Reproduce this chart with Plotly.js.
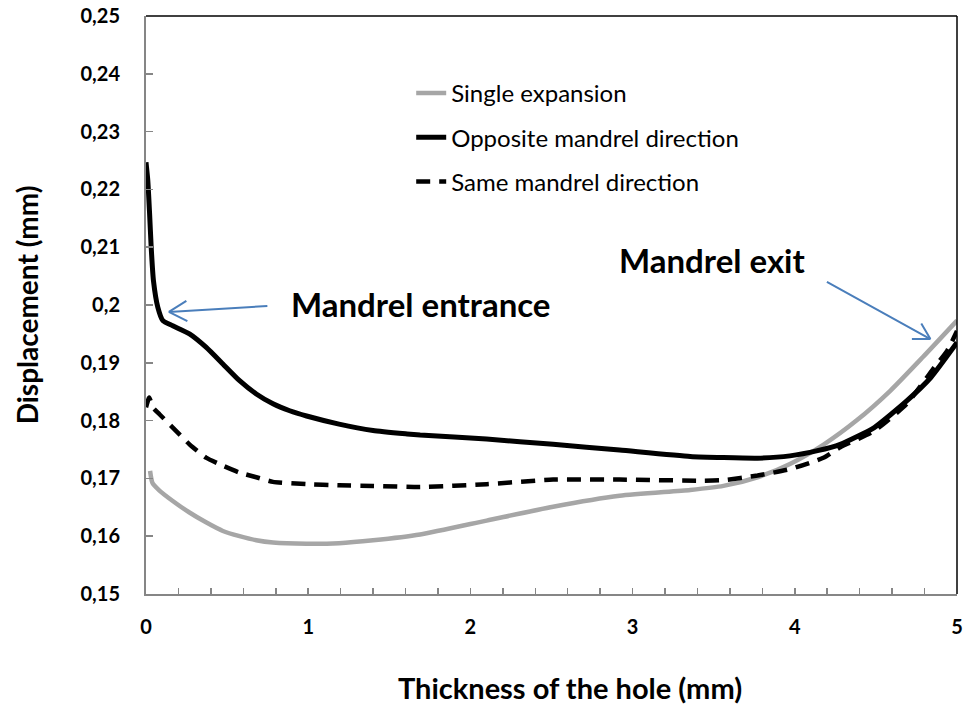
<!DOCTYPE html>
<html>
<head>
<meta charset="utf-8">
<script src="https://cdn.plot.ly/plotly-3.0.1.min.js"></script>
<style>html,body{margin:0;padding:0;background:#fff;}#chart{width:964px;height:708px;}</style>
</head>
<body>
<div id="chart"></div>
<script>
// ---- data ----
const seriesNames = ["Single expansion", "Opposite mandrel direction", "Same mandrel direction"];

const singleX = [0.025, 0.04, 0.083, 0.165, 0.268, 0.37, 0.474, 0.577, 0.68, 0.783, 0.99, 1.19, 1.40, 1.69, 2.10, 2.51, 2.92, 3.355, 3.56, 3.77, 3.97, 4.18, 4.38, 4.59, 4.79, 5.0];
const singleY = [0.1713, 0.1692, 0.1679, 0.1661, 0.1641, 0.1624, 0.1609, 0.1600, 0.1593, 0.1589, 0.1587, 0.1588, 0.1593, 0.1603, 0.1627, 0.1651, 0.1670, 0.1680, 0.1687, 0.1702, 0.1725, 0.1759, 0.1800, 0.1852, 0.1910, 0.1973];

const oppositeX = [0, 0.011, 0.022, 0.032, 0.046, 0.073, 0.104, 0.165, 0.268, 0.37, 0.474, 0.577, 0.68, 0.783, 0.886, 0.99, 1.19, 1.40, 1.61, 1.69, 2.10, 2.51, 2.92, 3.355, 3.56, 3.77, 3.97, 4.14, 4.28, 4.49, 4.69, 4.84, 5.0];
const oppositeY = [0.2247, 0.2216, 0.2159, 0.2100, 0.2042, 0.1996, 0.1973, 0.1964, 0.1950, 0.1927, 0.1898, 0.1869, 0.1846, 0.1829, 0.1817, 0.1808, 0.1794, 0.1783, 0.1777, 0.1775, 0.1768, 0.1759, 0.1749, 0.1738, 0.1736, 0.1735, 0.1739, 0.1748, 0.1759, 0.1788, 0.1834, 0.1875, 0.1935];

const sameX = [0, 0.02, 0.042, 0.083, 0.165, 0.268, 0.37, 0.474, 0.577, 0.68, 0.783, 0.99, 1.19, 1.40, 1.69, 2.10, 2.51, 2.92, 3.42, 3.56, 3.77, 3.97, 4.18, 4.28, 4.49, 4.69, 4.86, 4.94, 5.0];
const sameY = [0.1823, 0.1840, 0.1823, 0.1811, 0.1788, 0.1759, 0.1736, 0.1722, 0.1710, 0.1702, 0.1694, 0.1690, 0.1688, 0.1687, 0.1685, 0.1690, 0.1698, 0.1698, 0.1696, 0.1697, 0.1705, 0.1716, 0.1736, 0.1754, 0.1782, 0.1829, 0.1892, 0.1921, 0.1955];

const xTickVals = [0, 1, 2, 3, 4, 5];
const yTickVals = [0.15, 0.16, 0.17, 0.18, 0.19, 0.20, 0.21, 0.22, 0.23, 0.24, 0.25];

const FONT = "Lato, 'Open Sans', sans-serif";

const traces = [
  {x: singleX, y: singleY, name: seriesNames[0], mode: "lines", legendgroup: "a",
   line: {color: "#a6a6a6", width: 4.5, shape: "spline", smoothing: 0.6}},
  {x: oppositeX, y: oppositeY, name: seriesNames[1], mode: "lines", legendgroup: "b",
   line: {color: "#000000", width: 5, shape: "spline", smoothing: 0.5}},
  {x: sameX, y: sameY, name: seriesNames[2], mode: "lines", legendgroup: "c",
   line: {color: "#000000", width: 4.5, dash: "14px,9px", shape: "spline", smoothing: 0.5}}
];

const arrowColor = "#4a7ebb";
function arrowLine(x, y, ax, ay) {
  return {x: x, y: y, xref: "x", yref: "y", ax: ax, ay: ay, showarrow: true,
          arrowhead: 0, arrowwidth: 2, arrowcolor: arrowColor, text: ""};
}

const layout = {
  width: 964, height: 708,
  margin: {l: 146, r: 7, t: 16, b: 114},
  paper_bgcolor: "#fff", plot_bgcolor: "#fff",
  separators: ",.",
  font: {family: FONT, color: "#000"},
  showlegend: true,
  legend: {x: 0.327, y: 0.905, xanchor: "left", yanchor: "top",
           font: {family: FONT, size: 24, color: "#000"},
           bgcolor: "rgba(0,0,0,0)", tracegroupgap: 10, traceorder: "grouped"},
  xaxis: {range: [0, 5], tickvals: xTickVals, ticks: "inside", ticklen: 6, tickcolor: "#868686", tickwidth: 1.5,
          minor: {dtick: 0.2, ticks: "inside", ticklen: 6, tickcolor: "#868686", tickwidth: 1.5},
          showline: true, linecolor: "#868686", linewidth: 2, showgrid: false, zeroline: false,
          tickfont: {family: FONT, size: 20, color: "#000", weight: "bold"}, ticklabelstandoff: 14,
          title: {text: "&nbsp;&nbsp;&nbsp;&nbsp;&nbsp;<b>Thickness of the hole (mm)</b>", font: {family: FONT, size: 29, color: "#000"}, standoff: 42}},
  yaxis: {range: [0.15, 0.25], tickvals: yTickVals, ticks: "inside", ticklen: 7, tickcolor: "#868686", tickwidth: 1.5,
          showline: true, linecolor: "#868686", linewidth: 2, showgrid: false, zeroline: false,
          tickfont: {family: FONT, size: 20, color: "#000", weight: "bold"}, ticklabelstandoff: 20,
          title: {text: "<b>Displacement (mm)</b>", font: {family: FONT, size: 28, color: "#000"}, standoff: 34}},
  shapes: [
    {type: "line", xref: "paper", yref: "paper", x0: 0, x1: 1, y0: 1, y1: 1, line: {color: "#000", width: 1.5}},
    {type: "line", xref: "paper", yref: "paper", x0: 1, x1: 1, y0: 0, y1: 1, line: {color: "#000", width: 1.5}}
  ],
  annotations: [
    {x: 1.694, y: 0.2001, xref: "x", yref: "y", text: "<b>Mandrel entrance</b>", showarrow: false,
     font: {family: FONT, size: 33, color: "#000"}},
    {x: 3.49, y: 0.2077, xref: "x", yref: "y", text: "<b>Mandrel exit</b>", showarrow: false,
     font: {family: FONT, size: 33, color: "#000"}},
    arrowLine(0.141, 0.1988, 100, -6),
    arrowLine(0.141, 0.1988, 19, -12),
    arrowLine(0.141, 0.1988, 20, 10),
    arrowLine(4.836, 0.1941, -105, -58),
    arrowLine(4.836, 0.1941, -10, -17),
    arrowLine(4.836, 0.1941, -20, 0)
  ]
};

Plotly.newPlot("chart", traces, layout, {displayModeBar: false, staticPlot: true});
</script>
</body>
</html>
